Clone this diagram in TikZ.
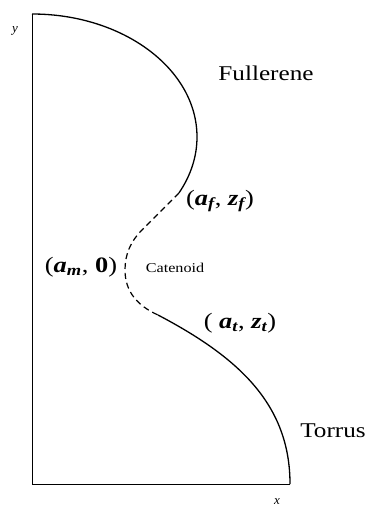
\documentclass[tikz,border=0pt]{standalone}
\usepackage{graphicx}
\usepackage{fontspec}
\setmainfont{Liberation Serif}
\usetikzlibrary{positioning}

\newcommand{\profpt}[2]{{\bfseries\itshape #1\textsubscript{#2}}}
\newcommand{\wide}[1]{\scalebox{1.2}[1]{#1}}

\begin{document}
\begin{tikzpicture}[x=1pt, y=-1pt,
          axis/.style={line width=0.9pt},
          shell/.style={line width=1.3pt},
          neck/.style={line width=1.2pt, dash pattern=on 6pt off 4pt},
          partlabel/.style={font=\fontsize{21}{24}\selectfont, inner sep=0pt},
          catlabel/.style={font=\fontsize{13.5}{15}\selectfont, inner sep=0pt},
          ptlabel/.style={font=\fontsize{22}{26}\selectfont, inner sep=0pt},
          axlabel/.style={font=\fontsize{13}{15}\selectfont\itshape, inner sep=0pt}]
        \useasboundingbox (0,0) rectangle (366,507);
        % axes and end points of the profile
        \coordinate (top) at (32,14);
        \coordinate (origin) at (32,484);
        \coordinate (xend) at (290,484);
        \coordinate (fjoin) at (179,193);
        \coordinate (tjoin) at (158,315);
        \draw[axis] (top) -- (origin) -- (xend);
        % fullerene cap
        \draw[shell] (top) arc[start angle=-90, end angle=27, x radius=165, y radius=123];
        % catenoid neck
        \draw[neck] (fjoin) -- (142,230) .. controls (130,242) and (125,255) .. (125,270)
          .. controls (125,292) and (138,306) .. (tjoin);
        % torus part
        \draw[shell] (tjoin) .. controls (238,357) and (290,404) .. (xend);
        % labels
        \node[axlabel] (ylab) at (15,31) {y};
        \node[axlabel] (xlab) at (277,502) {x};
        \node[partlabel] (full) at (266,73) {\wide{Fullerene}};
        \node[partlabel] (tor) at (333,431) {\wide{Torrus}};
        \node[catlabel] (cat) at (175,268) {\wide{Catenoid}};
        \node[ptlabel] (fpt) at (220,201) {\wide{(\profpt{a}{f}, \profpt{z}{f})}};
        \node[ptlabel] (mpt) at (81,267) {\wide{(\profpt{a}{m}, \textbf{0})}};
        \node[ptlabel] (tpt) at (240,323) {\wide{( \profpt{a}{t}, \profpt{z}{t})}};
      \end{tikzpicture}
\end{document}
